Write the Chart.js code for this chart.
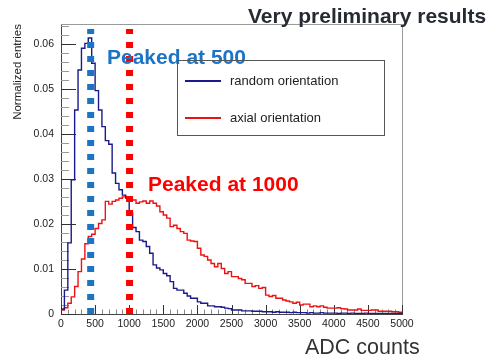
<!DOCTYPE html>
<html>
<head>
<meta charset="utf-8">
<script src="https://cdn.jsdelivr.net/npm/chart.js@4.4.1/dist/chart.umd.min.js"></script>
<style>
  body { margin: 0; background: #fff; }
  #wrap { position: relative; width: 497px; height: 359px; overflow: hidden; font-family: "Liberation Sans", Arial, sans-serif; }
  #c { position: absolute; left: 0; top: 0; }
  .txt { position: absolute; white-space: nowrap; }
  #title { left: 248px; top: 5px; font-size: 21px; line-height: 21px; font-weight: bold; color: #262a33; }
  #xtitle { left: 305px; top: 337px; font-size: 21.5px; line-height: 21.5px; color: #333; }
  #peak500 { left: 107px; top: 46px; font-size: 21px; line-height: 21px; font-weight: bold; color: #1c74c6; }
  #peak1000 { left: 148px; top: 173px; font-size: 21px; line-height: 21px; font-weight: bold; color: #ff0000; }
  #legend { position: absolute; left: 177px; top: 60px; width: 206px; height: 74px; border: 1px solid #555; }
  .lline { position: absolute; left: 7px; width: 36px; height: 1.5px; }
  .ltext { position: absolute; left: 52px; font-size: 13px; line-height: 13px; color: #222; }
</style>
</head>
<body>
<div id="wrap">
  <canvas id="c" width="497" height="359" style="width:497px;height:359px"></canvas>
  <div class="txt" id="title">Very preliminary results</div>
  <div class="txt" id="peak500">Peaked at 500</div>
  <div class="txt" id="peak1000">Peaked at 1000</div>
  <div id="legend">
    <div class="lline" style="top:19px;background:#1a1a8c"></div>
    <div class="ltext" style="top:13px">random orientation</div>
    <div class="lline" style="top:56px;background:#ee1111"></div>
    <div class="ltext" style="top:50px">axial orientation</div>
  </div>
  <div class="txt" id="xtitle">ADC counts</div>
</div>
<script>
// ===== Data (normalized entries per 50-count bin, 0..5000) =====
const binWidth = 50;
const xMin = 0;
const xMax = 5000;
const yMax = 0.0644;

const randomOrientation = [
  0.0011, 0.0053, 0.0158, 0.0298, 0.0453, 0.0542, 0.0590, 0.0601, 0.0613, 0.0557,
  0.0496, 0.0453, 0.0416, 0.0385, 0.0377, 0.0313, 0.0290, 0.0276, 0.0264, 0.0258,
  0.0224, 0.0192, 0.0183, 0.0164, 0.0161, 0.0150, 0.0135, 0.0109, 0.0102, 0.0098,
  0.0090, 0.0085, 0.0072, 0.0057, 0.0053, 0.0053, 0.0046, 0.0040, 0.0035, 0.0035,
  0.0027, 0.0024, 0.0024, 0.0018, 0.0018, 0.0016, 0.0016, 0.0015, 0.0013, 0.0012,
  0.0009, 0.0009, 0.0009, 0.0007, 0.0007, 0.0007, 0.0006, 0.0006, 0.0006, 0.0005,
  0.0005, 0.0005, 0.0004, 0.0005, 0.0004, 0.0004, 0.0004, 0.0003, 0.0004, 0.0003,
  0.0003, 0.0003, 0.0002, 0.0003, 0.0002, 0.0002, 0.0003, 0.0002, 0.0002, 0.0002,
  0.0002, 0.0001, 0.0002, 0.0002, 0.0001, 0.0002, 0.0001, 0.0001, 0.0001, 0.0002,
  0.0001, 0.0001, 0.0001, 0.0001, 0.0001, 0.0001, 0.0001, 0.0001, 0.0001, 0.0001
];

const axialOrientation = [
  0.0009, 0.0014, 0.0024, 0.0038, 0.0061, 0.0094, 0.0122, 0.0156, 0.0172, 0.0177,
  0.0190, 0.0201, 0.0209, 0.0250, 0.0244, 0.0250, 0.0253, 0.0257, 0.0260, 0.0257,
  0.0254, 0.0253, 0.0246, 0.0249, 0.0251, 0.0246, 0.0251, 0.0246, 0.0240, 0.0227,
  0.0220, 0.0213, 0.0194, 0.0197, 0.0190, 0.0183, 0.0179, 0.0164, 0.0162, 0.0161,
  0.0146, 0.0131, 0.0128, 0.0120, 0.0112, 0.0105, 0.0112, 0.0101, 0.0090, 0.0094,
  0.0083, 0.0083, 0.0079, 0.0076, 0.0068, 0.0068, 0.0061, 0.0063, 0.0057, 0.0059,
  0.0042, 0.0039, 0.0041, 0.0035, 0.0035, 0.0031, 0.0029, 0.0027, 0.0024, 0.0026,
  0.0020, 0.0022, 0.0022, 0.0016, 0.0018, 0.0016, 0.0018, 0.0015, 0.0013, 0.0013,
  0.0013, 0.0014, 0.0012, 0.0011, 0.0009, 0.0009, 0.0009, 0.0011, 0.0008, 0.0008,
  0.0008, 0.0009, 0.0009, 0.0006, 0.0006, 0.0006, 0.0006, 0.0005, 0.0005, 0.0004
];

// hand-drawn peak markers (ADC position, top of marker)
const peakMarkers = [435, 1005];
const markerTop = 0.0633;

// ===== Helpers =====
function histPoints(values) {
  const pts = [{ x: xMin, y: 0 }];
  values.forEach((v, i) => pts.push({ x: xMin + i * binWidth, y: v }));
  pts.push({ x: xMin + values.length * binWidth, y: values[values.length - 1] });
  return pts;
}

function markerLine(x) {
  return [{ x: x, y: 0 }, { x: x, y: markerTop }];
}

const font = "'Liberation Sans', Arial, sans-serif";

// ROOT style frame + inward ticks
const rootFrame = {
  id: "rootFrame",
  beforeDatasetsDraw(chart) {
    const { ctx, chartArea: a, scales: { x, y } } = chart;
    ctx.save();
    ctx.lineWidth = 1;
    ctx.strokeStyle = "#9a9a9a";
    ctx.beginPath();
    ctx.moveTo(a.left, a.top + 0.5);
    ctx.lineTo(a.right + 0.5, a.top + 0.5);
    ctx.lineTo(a.right + 0.5, a.bottom);
    ctx.stroke();

    // y ticks: minor every 0.002, major every 0.01
    for (let i = 0; i * 0.002 <= yMax; i++) {
      const py = Math.round(y.getPixelForValue(i * 0.002)) + 0.5;
      const major = i % 5 === 0;
      ctx.strokeStyle = major ? "#333" : "#999";
      ctx.beginPath();
      ctx.moveTo(a.left, py);
      ctx.lineTo(a.left + (major ? 15 : 8), py);
      ctx.stroke();
    }
    // x ticks: minor every 100, major every 500
    for (let i = 0; i * 100 <= xMax; i++) {
      const px = Math.round(x.getPixelForValue(i * 100)) + 0.5;
      const major = i % 5 === 0;
      ctx.strokeStyle = major ? "#333" : "#888";
      ctx.beginPath();
      ctx.moveTo(px, a.bottom);
      ctx.lineTo(px, a.bottom - (major ? 9 : 4.5));
      ctx.stroke();
    }
    ctx.restore();
  }
};

// ===== Chart =====
new Chart(document.getElementById("c"), {
  type: "line",
  data: {
    datasets: [
      {
        label: "peak 500",
        data: markerLine(peakMarkers[0]),
        borderColor: "#1c74c6",
        borderWidth: 7,
        borderDash: [6, 8],
        pointRadius: 0,
        order: 1
      },
      {
        label: "peak 1000",
        data: markerLine(peakMarkers[1]),
        borderColor: "#ff0000",
        borderWidth: 7,
        borderDash: [6, 8],
        pointRadius: 0,
        order: 0
      },
      {
        label: "random orientation",
        data: histPoints(randomOrientation),
        borderColor: "#1a1a8c",
        borderWidth: 1.4,
        stepped: true,
        pointRadius: 0,
        order: 2
      },
      {
        label: "axial orientation",
        data: histPoints(axialOrientation),
        borderColor: "#ee1111",
        borderWidth: 1.4,
        stepped: true,
        pointRadius: 0,
        order: 3
      }
    ]
  },
  options: {
    responsive: false,
    animation: false,
    devicePixelRatio: 1,
    layout: { padding: { top: 24, right: 95, left: 0, bottom: 0 } },
    plugins: {
      legend: { display: false },
      tooltip: { enabled: false }
    },
    scales: {
      x: {
        type: "linear",
        min: xMin,
        max: xMax,
        grid: { display: false, drawTicks: false, tickLength: 0 },
        border: { color: "#444" },
        ticks: {
          stepSize: 500,
          includeBounds: false,
          autoSkip: false,
          maxRotation: 0,
          padding: 4,
          color: "#222",
          font: { family: font, size: 10.5 },
          callback: v => String(v)
        },
        afterFit(s) { s.height = 45; }
      },
      y: {
        min: 0,
        max: yMax,
        grid: { display: false, drawTicks: false, tickLength: 0 },
        border: { color: "#444" },
        ticks: {
          stepSize: 0.01,
          includeBounds: false,
          padding: 7,
          color: "#222",
          font: { family: font, size: 10.5 },
          callback: v => (v === 0 ? "0" : v.toFixed(2))
        },
        title: {
          display: true,
          text: "Normalized entries",
          align: "end",
          color: "#222",
          padding: { top: 11, bottom: 0 },
          font: { family: font, size: 11.5 }
        },
        afterFit(s) { s.width = 61; }
      }
    }
  },
  plugins: [rootFrame]
});
</script>
</body>
</html>
